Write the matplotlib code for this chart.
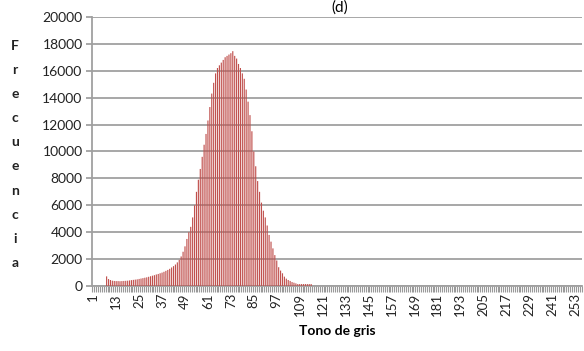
import matplotlib.pyplot as plt
import numpy as np

plt.rcParams['font.family'] = ['Lato', 'DejaVu Sans']

# gray levels 1..256
tonos = np.arange(1, 257)

# frequency per gray level (levels 8..115, the rest are empty)
frec_inicio = 8
frec_valores = [
    720, 520, 450, 400, 380, 370, 370, 360, 370, 380,
    390, 400, 420, 440, 460, 480, 500, 530, 560, 590,
    620, 650, 690, 730, 770, 810, 860, 900, 950, 1000,
    1060, 1130, 1200, 1280, 1380, 1480, 1600, 1760, 1950, 2200,
    2550, 2950, 3500, 4000, 4400, 5100, 6000, 7000, 7900, 8700,
    9600, 10500, 11300, 12300, 13300, 14300, 15100, 15800, 16200, 16400,
    16600, 16800, 17000, 17100, 17200, 17300, 17450, 17100, 16900, 16500,
    16200, 15800, 15400, 14600, 13700, 12700, 11500, 10000, 8900, 7800,
    7000, 6200, 5600, 5100, 4500, 3800, 3300, 2800, 2300, 1900,
    1400, 1150, 950, 700, 550, 450, 380, 300, 250, 200,
    150, 150, 150, 150, 150, 150, 150, 150,
]
frecuencia = np.zeros(len(tonos))
frecuencia[frec_inicio - 1:frec_inicio - 1 + len(frec_valores)] = frec_valores

etiquetas_x = list(range(1, 257, 12))
ticks_y = list(range(0, 20001, 2000))

fig = plt.figure(figsize=(5.84, 3.51), dpi=100)
ax = fig.add_axes([0.158, 0.185, 0.838, 0.767])

ax.bar(tonos, frecuencia, width=0.6, color='#c0504d', edgecolor='none',
       linewidth=0, snap=False, zorder=3)

ax.set_xlim(0.5, 256.5)
ax.set_ylim(0, 20000)
ax.set_yticks(ticks_y)
ax.set_yticklabels([str(v) for v in ticks_y], fontsize=10, color='#222222')
ax.set_xticks(etiquetas_x)
ax.set_xticklabels([str(v) for v in etiquetas_x], rotation=90, fontsize=9.5,
                   color='#222222')
ax.set_xticks(np.arange(0.5, 257, 1), minor=True)
ax.tick_params(axis='x', which='major', length=0, pad=5)
ax.tick_params(axis='x', which='minor', length=4, width=0.8, color='#999999',
               direction='out')
ax.tick_params(axis='y', length=4, width=1.2, color='#999999', pad=3)

ax.grid(axis='y', color='#a0a0a0', linewidth=1.3, zorder=0)
for s in ['top', 'right']:
    ax.spines[s].set_visible(False)
ax.spines['left'].set_color('#a0a0a0')
ax.spines['left'].set_linewidth(1.3)
ax.spines['bottom'].set_color('#a0a0a0')
ax.spines['bottom'].set_linewidth(1.3)

ax.set_xlabel('Tono de gris', fontsize=10, fontweight='bold', labelpad=6)

# vertical axis title, one letter per line
for i, letra in enumerate('Frecuencia'):
    fig.text(15 / 584, 1 - (46 + i * 24.1) / 351, letra, fontsize=10,
             fontweight='bold', ha='center', va='center', color='#222222')

fig.text(0.582, 0.998, '(d)', fontsize=11, ha='center', va='top')

fig.savefig('out.png', dpi=100)
